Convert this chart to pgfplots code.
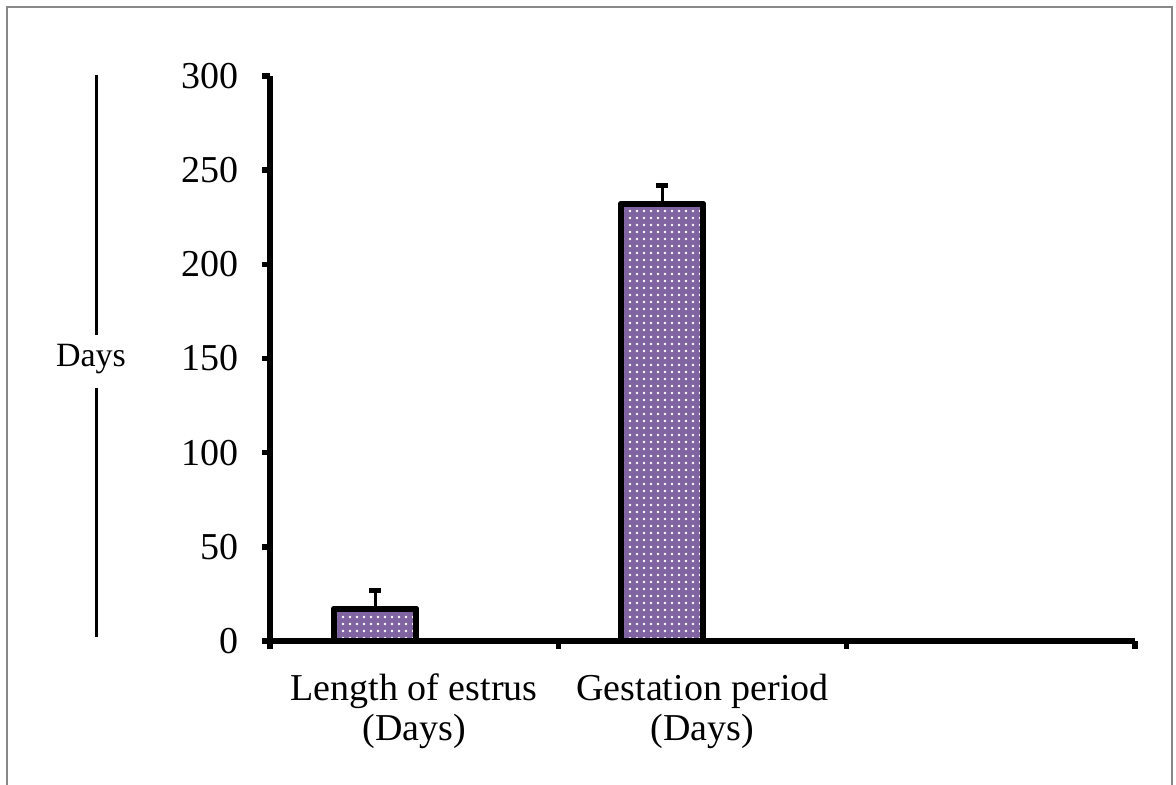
\documentclass[border=0pt]{standalone}
\usepackage{pgfplots}
\pgfplotsset{compat=1.18}
\usepackage{fontspec}
\setmainfont{Liberation Serif}
\usetikzlibrary{patterns.meta}
\definecolor{barpurple}{RGB}{128,100,162}
\definecolor{framegray}{RGB}{136,136,136}
\begin{document}
\begin{tikzpicture}
\useasboundingbox (0,0) rectangle (588pt,392.5pt);
\draw[framegray, line width=1pt] (3.25pt,-5pt) -- (3.25pt,389pt) -- (586pt,389pt) -- (586pt,-5pt);
\draw[line width=1.5pt] (48pt,355pt) -- (48pt,225pt);
\draw[line width=1.5pt] (48pt,198.5pt) -- (48pt,74pt);
\node[font=\fontsize{17}{20}\selectfont] at (45.5pt,213pt) {Days};
\begin{axis}[
  at={(135pt,72pt)}, anchor=south west,
  scale only axis, width=432.5pt, height=282.5pt,
  xmin=0, xmax=3, ymin=0, ymax=300,
  axis x line*=bottom, axis y line*=left,
  axis line style={line width=2.8pt, -},
  xtick={0,1,2,3}, xticklabels={},
  extra x ticks={0.5,1.5},
  extra x tick labels={{Length of estrus\\(Days)},{Gestation period\\(Days)}},
  extra x tick style={major tick length=0pt, tick style={draw=none}},
  ytick={0,50,...,300},
  tick align=outside, major tick length=4pt,
  tick style={line width=2.8pt, black},
  ticklabel style={font=\fontsize{19}{20}\selectfont},
  xticklabel style={align=center, yshift=-13pt},
  yticklabel style={xshift=-8pt},
  /pgf/number format/assume math mode=true,
  clip=false,
]
\addplot[ybar, bar width=41pt, preaction={fill=barpurple}, pattern={Dots[distance=3.5pt,radius=0.7pt]}, pattern color=white, draw=black, line width=3pt, line join=round,
  error bars/.cd, y dir=plus, y explicit,
  error bar style={line width=1.5pt,black,solid},
  error mark options={rotate=90, mark size=3pt, line width=2.5pt, black}]
  coordinates {(0.365,17) +- (0,10) (1.36,232) +- (0,10)};
\end{axis}
\end{tikzpicture}
\end{document}
